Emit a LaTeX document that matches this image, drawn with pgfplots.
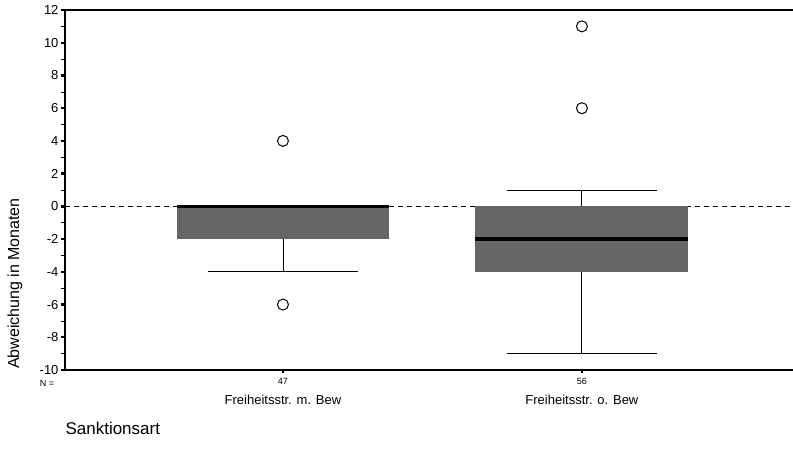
\documentclass[border=0pt]{standalone}
\usepackage{pgfplots}
\pgfplotsset{compat=1.18}
\usepgfplotslibrary{statistics}
\usepackage{fontspec}
\setmainfont{Liberation Sans}
\begin{document}
\begin{tikzpicture}[x=1pt,y=1pt]
\useasboundingbox (-65,-87) rectangle (728,370);
\begin{axis}[
  at={(0,0)}, anchor=south west,
  scale only axis, width=728pt, height=360pt,
  xmin=0.271, xmax=2.706, ymin=-10, ymax=12,
  axis x line=bottom, axis y line=left,
  axis line style={line width=1.3pt, -},
  ytick={-10,-8,...,12},
  minor ytick={-9,-7,...,11},
  tick align=outside,
  major tick length=3.5pt, minor tick length=4pt,
  every major tick/.style={line width=2.4pt, black},
  every minor tick/.style={line width=0.6pt, black},
  yticklabel style={font=\fontsize{13}{15}\selectfont, xshift=0.5pt},
  /pgf/number format/assume math mode=true,
  xtick={1,2},
  xticklabels={{\fontsize{9}{10}\selectfont 47\\[8pt]\fontsize{13}{15}\selectfont Freiheitsstr. m. Bew},
               {\fontsize{9}{10}\selectfont 56\\[8pt]\fontsize{13}{15}\selectfont Freiheitsstr. o. Bew}},
  xticklabel style={align=center, yshift=-1pt},
  ylabel={Abweichung in Monaten},
  ylabel style={font=\fontsize{16}{18}\selectfont, at={(axis description cs:-0.0687,0.24)}, anchor=center},
  boxplot/draw direction=y,
  boxplot/every box/.style={draw=none, fill=black!60},
  boxplot/every whisker/.style={black, line width=0.9pt},
  boxplot/every median/.style={black, line width=3.2pt},
  clip=false,
]
\addplot[black, dashed, dash pattern=on 5pt off 4pt, line width=0.7pt] coordinates {(0.271,0) (2.706,0)};
\addplot+[
  boxplot prepared={draw position=1, lower whisker=-4, lower quartile=-2, median=0,
    upper quartile=0, upper whisker=0, box extend=0.712, whisker extend=0.5},
  mark=o, mark size=5.5pt, mark options={black, line width=1pt}, black
] table[row sep=\\, y index=0] {4\\ -6\\};
\addplot+[
  boxplot prepared={draw position=2, lower whisker=-9, lower quartile=-4, median=-2,
    upper quartile=0, upper whisker=1, box extend=0.712, whisker extend=0.5},
  mark=o, mark size=5.5pt, mark options={black, line width=1pt}, black
] table[row sep=\\, y index=0] {11\\ 6\\};
\draw[line width=1.3pt] (rel axis cs:0,1) -- (rel axis cs:1,1);
\node[font=\fontsize{9}{10}\selectfont] at ([xshift=-18pt, yshift=-13pt]rel axis cs:0,0) {N =};
\node[font=\fontsize{17}{19}\selectfont, anchor=west] at ([xshift=-3pt, yshift=-58pt]rel axis cs:0,0) {Sanktionsart};
\end{axis}
\end{tikzpicture}
\end{document}
